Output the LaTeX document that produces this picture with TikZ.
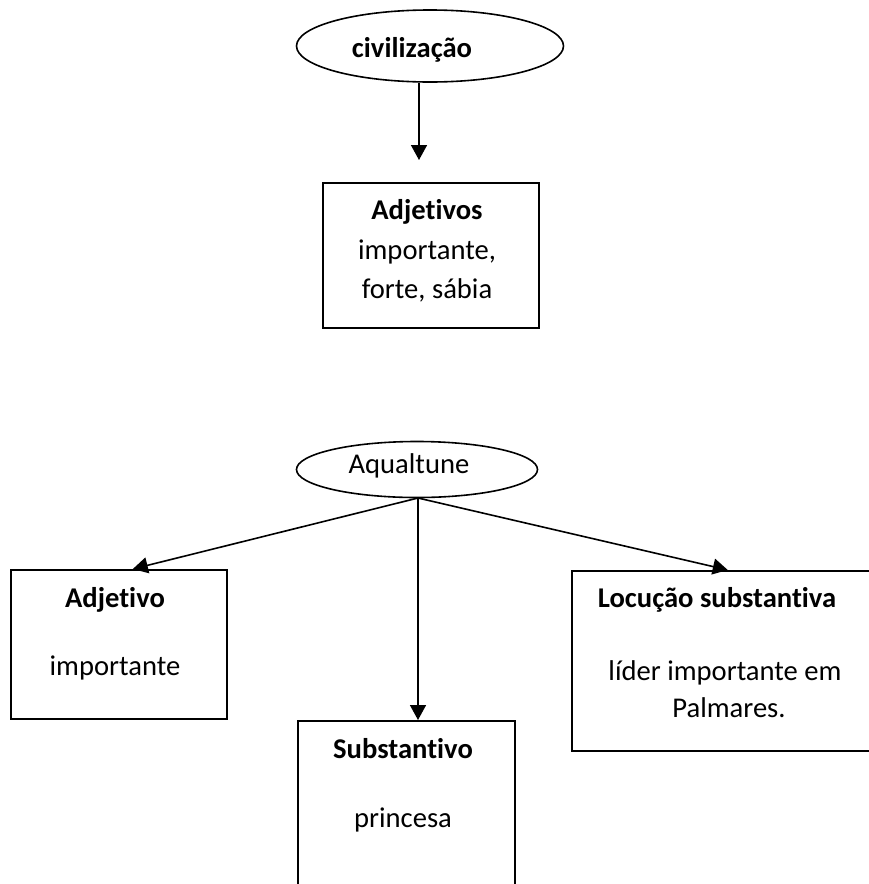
\documentclass[tikz,border=0pt]{standalone}
\usepackage{fontspec}
\setmainfont{Carlito}[RawFeature=-liga]
\usetikzlibrary{shapes.geometric,arrows.meta,calc}
\begin{document}
\begin{tikzpicture}[x=1pt,y=-1pt,
  line width=1.6pt,
  conn/.style={-{Triangle[width=16pt,length=15pt]}},
  oval/.style={draw,ellipse,inner sep=0pt},
  boxr/.style={draw,rectangle,inner sep=0pt,anchor=north west},
  txt/.style={anchor=base,inner sep=0pt,font=\fontsize{28.6}{35}\selectfont},
  btxt/.style={txt,font=\fontsize{28.6}{35}\selectfont\bfseries}]
\useasboundingbox (0,0) rectangle (869,884);
% top part
\node[oval,minimum width=267pt,minimum height=72pt] (civ) at (430,46) {};
\node[btxt] (civt) at (412,57) {civilização};
\node[boxr,minimum width=216pt,minimum height=145pt] (adjs) at (322,182) {};
\node[btxt] (adjst1) at (427,219) {Adjetivos};
\node[txt] (adjst2) at (427,259) {importante,};
\node[txt] (adjst3) at (427,298) {forte, sábia};
\coordinate (tip0) at (419,160);
\draw[conn] (civ.south -| tip0) -- (tip0);
% bottom part
\node[oval,minimum width=241pt,minimum height=56pt] (aq) at (417,469.5) {};
\node[txt] (aqt) at (409,473) {Aqualtune};
\node[boxr,minimum width=216pt,minimum height=149pt] (adj) at (10,569) {};
\node[btxt] (adjt1) at (115,607) {Adjetivo};
\node[txt] (adjt2) at (115,675) {importante};
\node[boxr,minimum width=302pt,minimum height=180pt] (loc) at (571,570) {};
\node[btxt] (loct1) at (717,607) {Locução substantiva};
\node[txt] (loct2) at (725,680) {líder importante em};
\node[txt] (loct3) at (729,717) {Palmares.};
\node[boxr,minimum width=217pt,minimum height=180pt] (sub) at (297,720) {};
\node[btxt] (subt1) at (403,758) {Substantivo};
\node[txt] (subt2) at (403,827) {princesa};
\coordinate (apex) at (418,498);
\coordinate (tipL) at ($(adj.north)+(14,0)$);
\coordinate (tipR) at ($(loc.north)+(5,0)$);
\coordinate (tipM) at (sub.north -| apex);
\draw[conn] (apex) -- (tipL);
\draw[conn] (apex) -- (tipR);
\draw[conn] (apex) -- (tipM);
\end{tikzpicture}
\end{document}
